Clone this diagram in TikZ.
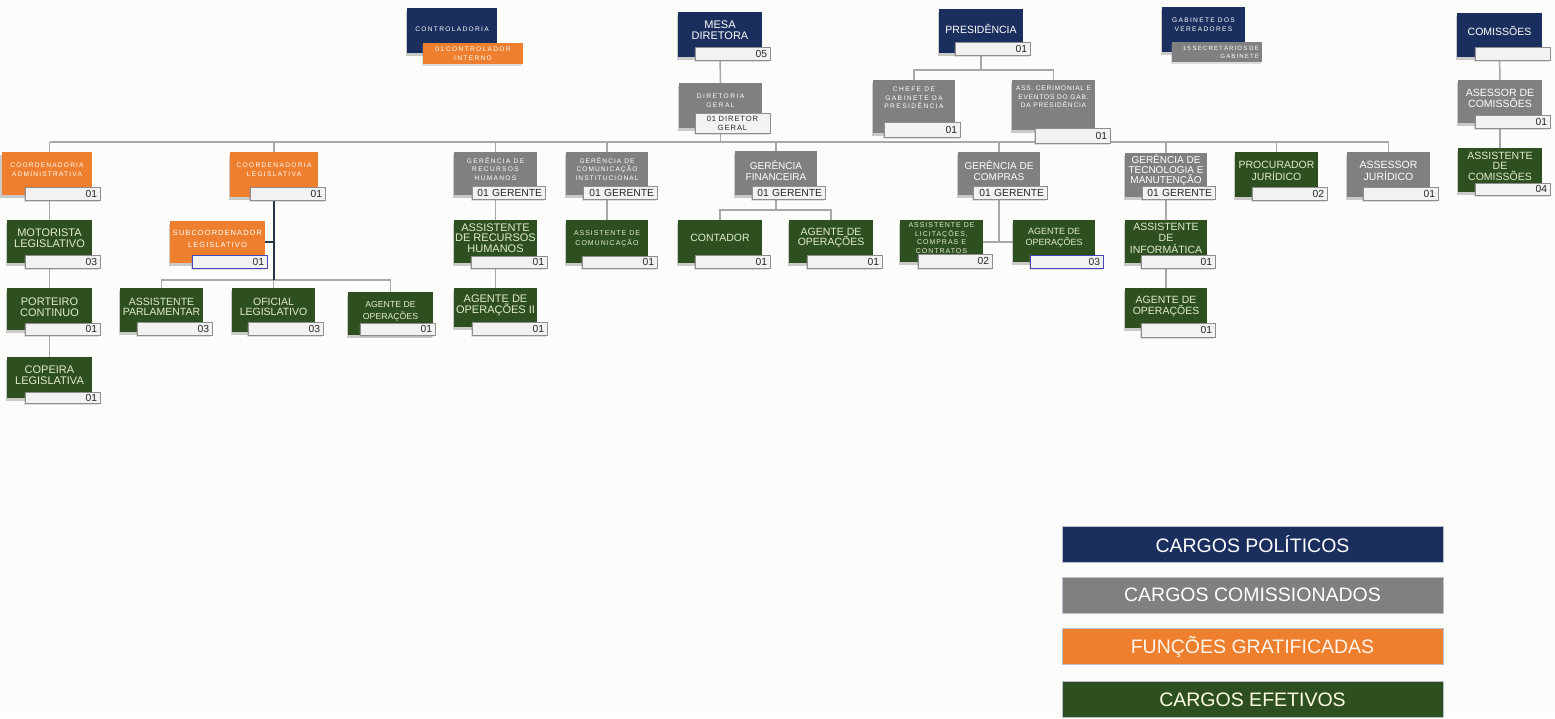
\documentclass[tikz,border=0pt]{standalone}
\usepackage{fontspec}
\setmainfont{Liberation Sans}
\usetikzlibrary{shadows,backgrounds}
\definecolor{navy}{HTML}{1B2F5E}
\definecolor{grayb}{HTML}{808080}
\definecolor{orng}{HTML}{EE7F2E}
\definecolor{grn}{HTML}{2E5021}
\definecolor{lineg}{HTML}{A8A8A8}
\definecolor{lined}{HTML}{26364A}
\definecolor{cntf}{HTML}{F2F2F2}
\definecolor{cntb}{HTML}{8E8E8E}
\definecolor{grntxt}{HTML}{E2ECCB}
\definecolor{bgc}{HTML}{FCFCFA}
\definecolor{legbd}{HTML}{B8C0CC}
\newcommand\fsz[2]{\fontsize{#1}{#2}\selectfont}
\newcommand\smf[1]{\fontsize{6.6}{8.6}\selectfont\addfontfeature{LetterSpace=#1}}
\newcommand\obox[9]{%
  \pgfmathsetmacro\bw{#5-#3}\pgfmathsetmacro\bh{#6-#4}%
  \pgfmathsetmacro\bx{(#3+#5)/2}\pgfmathsetmacro\by{(#4+#6)/2}%
  \node[#2, minimum width=\bw pt, minimum height=\bh pt] (#1) at (\bx,\by) {};
  \node[#2T, inner sep=0pt, align=center, font=#8] (#1-t) at (\bx,#7) {#9};}
\newcommand\cbox[7][]{%
  \pgfmathsetmacro\bw{#5-#3}\pgfmathsetmacro\bh{#6-#4}\pgfmathsetmacro\tw{#5-#3-6}%
  \pgfmathsetmacro\bx{(#3+#5)/2}\pgfmathsetmacro\by{(#4+#6)/2}%
  \node[cnt, minimum width=\bw pt, minimum height=\bh pt, text width=\tw pt, #1] (#2) at (\bx,\by) {#7};}
\begin{document}
\begin{tikzpicture}[x=1pt,y=-1pt,
  box/.style={draw=none, inner sep=0pt, drop shadow={shadow xshift=-1.5pt,shadow yshift=-2.5pt,opacity=.4}},
  navyB/.style={box, fill=navy}, navyBT/.style={text=white},
  grayB/.style={box, fill=grayb}, grayBT/.style={text=white},
  orngB/.style={box, fill=orng}, orngBT/.style={text=white},
  grnB/.style={box, fill=grn}, grnBT/.style={text=grntxt},
  cnt/.style={draw=cntb, fill=cntf, line width=.7pt, inner xsep=3pt, inner ysep=0pt, align=right, font=\fsz{10.3}{10}, text=black!85,
     drop shadow={shadow xshift=-1pt,shadow yshift=-1.5pt,opacity=.25}},
  conn/.style={draw=lineg, line width=1.5pt},
  connd/.style={draw=lined, line width=1.5pt},
  legbox/.style={draw=legbd, line width=.6pt, minimum width=381pt, minimum height=36pt, inner sep=0pt, font=\fsz{19.5}{20}}
]
\useasboundingbox (0,0) rectangle (1555,718);
\begin{pgfonlayer}{background}
\fill[bgc] (0,0) rectangle (1555,718);
\end{pgfonlayer}

% ---------- top row ----------
\obox{contr}{navyB}{407}{8}{497}{53}{29}{\smf{20}}{CONTROLADORIA}
\cbox[fill=orng, draw=none, text=white, align=center, font=\fontsize{6.6}{8.5}\selectfont\addfontfeature{LetterSpace=20}]{contr-c}{423}{43}{523}{64}{01 CONTROLADOR\\INTERNO}

\obox{mesa}{navyB}{678}{12}{762}{57}{30}{\fsz{11}{10.5}}{MESA\\DIRETORA}
\cbox{mesa-c}{695}{47}{770}{60}{05}

\obox{dirg}{grayB}{679}{83}{762}{128}{101}{\smf{22}}{DIRETORIA\\GERAL}
\cbox[align=center, font=\fontsize{7.6}{9}\selectfont\addfontfeature{LetterSpace=12}]{dirg-c}{695}{113}{770}{133}{01 DIRETOR\\GERAL}

\obox{pres}{navyB}{939}{9}{1023}{53}{29}{\fsz{10.5}{11}}{PRESIDÊNCIA}
\cbox{pres-c}{955}{42}{1030}{55}{01}

\obox{chefe}{grayB}{873}{80}{955}{133}{98}{\smf{22}}{CHEFE DE\\GABINETE DA\\PRESIDÊNCIA}
\cbox{chefe-c}{884}{122}{960}{137}{01}

\obox{cerim}{grayB}{1012}{80}{1095}{130}{97}{\smf{12}}{ASS. CERIMONIAL E\\EVENTOS DO GAB.\\DA PRESIDÊNCIA}
\cbox{cerim-c}{1035}{128}{1110}{143}{01}

\obox{gabv}{navyB}{1162}{7}{1245}{52}{25}{\smf{20}}{GABINETE DOS\\VEREADORES}
\cbox[fill=grayb, draw=none, text=white, font=\fontsize{6.1}{8}\selectfont\addfontfeature{LetterSpace=18}]{gabv-c}{1172}{42}{1262}{62}{15 SECRETÁRIOS DE\\GABINETE}

\obox{comis}{navyB}{1457}{13}{1542}{57}{31}{\fsz{10.5}{11}}{COMISSÕES}
\cbox{comis-c}{1475}{47}{1550}{60}{}

\obox{asscom}{grayB}{1458}{80}{1542}{123}{98}{\fsz{10.5}{11}}{ASESSOR DE\\COMISSÕES}
\cbox{asscom-c}{1475}{115}{1550}{128}{01}

\obox{assistcom}{grnB}{1458}{148}{1542}{192}{166}{\fsz{10.5}{10.5}}{ASSISTENTE\\DE\\COMISSÕES}
\cbox{assistcom-c}{1475}{183}{1550}{195}{04}

% ---------- coordenadoria administrativa ----------
\obox{cadm}{orngB}{2}{152}{92}{195}{170}{\smf{18}}{COORDENADORIA\\ADMINISTRATIVA}
\cbox{cadm-c}{25}{187}{100}{200}{01}
\obox{motor}{grnB}{7}{220}{92}{263}{238}{\fsz{11}{11}}{MOTORISTA\\LEGISLATIVO}
\cbox{motor-c}{25}{255}{100}{268}{03}
\obox{port}{grnB}{7}{288}{92}{330}{307}{\fsz{11}{11}}{PORTEIRO\\CONTINUO}
\cbox{port-c}{25}{323}{100}{335}{01}
\obox{cope}{grnB}{7}{357}{92}{398}{375}{\fsz{11}{11}}{COPEIRA\\LEGISLATIVA}
\cbox{cope-c}{25}{392}{100}{403}{01}

% ---------- coordenadoria legislativa ----------
\obox{cleg}{orngB}{230}{152}{318}{197}{170}{\smf{20}}{COORDENADORIA\\LEGISLATIVA}
\cbox{cleg-c}{250}{187}{325}{200}{01}
\obox{subc}{orngB}{170}{221}{265}{263}{239}{\fontsize{7.5}{12.5}\selectfont\addfontfeature{LetterSpace=14}}{SUBCOORDENADOR\\LEGISLATIVO}
\cbox[draw=blue!45!gray]{subc-c}{192}{255}{267}{268}{01}
\obox{aparl}{grnB}{120}{288}{203}{332}{307}{\fsz{10.5}{10.5}}{ASSISTENTE\\PARLAMENTAR}
\cbox{aparl-c}{137}{322}{212}{335}{03}
\obox{ofic}{grnB}{232}{288}{315}{332}{307}{\fsz{10.5}{10.5}}{OFICIAL\\LEGISLATIVO}
\cbox{ofic-c}{248}{322}{323}{335}{03}
\obox{agleg}{grnB}{348}{292}{433}{335}{311}{\fsz{8.7}{12}}{AGENTE DE\\OPERAÇÕES}
\cbox{agleg-c}{360}{323}{435}{335}{01}

% ---------- recursos humanos / comunicação ----------
\obox{grh}{grayB}{454}{152}{537}{195}{169}{\smf{20}}{GERÊNCIA DE\\RECURSOS\\HUMANOS}
\cbox{grh-c}{472}{186}{545}{199}{01 GERENTE}
\obox{arh}{grnB}{454}{220}{537}{263}{238}{\fsz{11}{10.5}}{ASSISTENTE\\DE RECURSOS\\HUMANOS}
\cbox{arh-c}{471}{256}{547}{268}{01}
\obox{agrh}{grnB}{454}{288}{537}{327}{305}{\fsz{11}{11}}{AGENTE DE\\OPERAÇÕES II}
\cbox{agrh-c}{472}{322}{547}{335}{01}

\obox{gcom}{grayB}{566}{152}{648}{195}{169}{\smf{16}}{GERÊNCIA DE\\COMUNICAÇÃO\\INSTITUCIONAL}
\cbox{gcom-c}{583}{186}{657}{199}{01 GERENTE}
\obox{acom}{grnB}{566}{220}{648}{263}{239}{\fontsize{7}{10}\selectfont\addfontfeature{LetterSpace=14}}{ASSISTENTE DE\\COMUNICAÇÃO}
\cbox{acom-c}{582}{256}{657}{268}{01}

% ---------- financeira ----------
\obox{gfin}{grayB}{735}{151}{817}{195}{171}{\fsz{10}{11}}{GERÊNCIA\\FINANCEIRA}
\cbox{gfin-c}{752}{186}{825}{199}{01 GERENTE}
\obox{cont}{grnB}{678}{220}{762}{263}{238}{\fsz{10.5}{11}}{CONTADOR}
\cbox{cont-c}{695}{255}{770}{268}{01}
\obox{agfin}{grnB}{789}{220}{873}{263}{238}{\fsz{10.5}{10.5}}{AGENTE DE\\OPERAÇÕES}
\cbox{agfin-c}{807}{255}{882}{268}{01}

% ---------- compras ----------
\obox{gcomp}{grayB}{958}{152}{1040}{195}{171}{\fsz{10}{11}}{GERÊNCIA DE\\COMPRAS}
\cbox{gcomp-c}{973}{186}{1047}{199}{01 GERENTE}
\obox{alic}{grnB}{900}{220}{983}{262}{238}{\fontsize{7}{8.8}\selectfont\addfontfeature{LetterSpace=14}}{ASSISTENTE DE\\LICITAÇÕES,\\COMPRAS E\\CONTRATOS}
\cbox{alic-c}{918}{254}{992}{268}{02}
\obox{agcomp}{grnB}{1013}{220}{1095}{262}{238}{\fsz{9}{11}}{AGENTE DE\\OPERAÇÕES}
\cbox[draw=blue!45!gray]{agcomp-c}{1030}{255}{1103}{268}{03}

% ---------- tecnologia ----------
\obox{gtec}{grayB}{1125}{153}{1207}{197}{170}{\fsz{10}{10}}{GERÊNCIA DE\\TECNOLOGIA E\\MANUTENÇÃO}
\cbox{gtec-c}{1142}{186}{1215}{199}{01 GERENTE}
\obox{ainf}{grnB}{1125}{220}{1207}{263}{238}{\fsz{10.5}{11.5}}{ASSISTENTE\\DE\\INFORMÁTICA}
\cbox{ainf-c}{1141}{255}{1215}{268}{01}
\obox{agtec}{grnB}{1125}{288}{1207}{328}{306}{\fsz{10.5}{11}}{AGENTE DE\\OPERAÇÕES}
\cbox{agtec-c}{1141}{323}{1215}{337}{01}

% ---------- jurídico ----------
\obox{proc}{grnB}{1235}{152}{1318}{197}{171}{\fsz{10.5}{11.5}}{PROCURADOR\\JURÍDICO}
\cbox{proc-c}{1252}{187}{1327}{200}{02}
\obox{asjur}{grayB}{1347}{152}{1430}{197}{171}{\fsz{10.5}{11.5}}{ASSESSOR\\JURÍDICO}
\cbox{asjur-c}{1363}{187}{1438}{200}{01}

% ---------- legend ----------
\node[legbox, fill=navy, text=white] (leg1) at (1252.5,544) {CARGOS POLÍTICOS};
\node[legbox, fill=grayb, text=white] (leg2) at (1252.5,595) {CARGOS COMISSIONADOS};
\node[legbox, fill=orng, text=orange!8] (leg3) at (1252.5,646.5) {FUNÇÕES GRATIFICADAS};
\node[legbox, fill=grn, text=yellow!10] (leg4) at (1252.5,699.5) {CARGOS EFETIVOS};

% ---------- connectors ----------
\coordinate (busY) at (0,142);
\coordinate (presY) at (0,70);
\coordinate (legY) at (0,280);
\coordinate (subY) at (0,242);
\coordinate (finY) at (0,210);
\coordinate (compY) at (0,242);
\begin{pgfonlayer}{background}
\draw[conn] (mesa.south) -- (dirg.north);
\draw[conn] (dirg.south) -- (dirg.south |- busY);
\draw[conn] (motor.north |- busY) -- (asjur.north |- busY);
\foreach \n in {grh,gcom,gfin,gcomp,gtec,proc,asjur}
  \draw[conn] (\n.north |- busY) -- (\n.north);
\draw[conn] (motor.north |- busY) -- (motor.north |- cadm.north);
\draw[conn] (cleg.north |- busY) -- (cleg.north);
\draw[conn] (pres.south) -- (pres.south |- presY);
\draw[conn] (chefe.north) -- (chefe.north |- presY) -- (cerim.north |- presY) -- (cerim.north);
\draw[conn] (comis.south) -- (asscom.north);
\draw[conn] (asscom.south) -- (assistcom.north);
\draw[conn] (motor.north |- cadm.south) -- (motor.north);
\draw[conn] (motor.south) -- (port.north);
\draw[conn] (port.south) -- (cope.north);
\draw[conn] (aparl.north) -- (aparl.north |- legY) -- (agleg.north |- legY) -- (agleg.north);
\draw[conn] (ofic.north |- legY) -- (ofic.north);
\draw[connd] (cleg.south) -- (cleg.south |- legY);
\draw[connd] (subc.east |- subY) -- (cleg.south |- subY);
\draw[conn] (grh.south) -- (arh.north);
\draw[conn] (arh.south) -- (agrh.north);
\draw[conn] (gcom.south) -- (acom.north);
\draw[conn] (gfin.south) -- (gfin.south |- finY);
\draw[conn] (cont.north) -- (cont.north |- finY) -- (agfin.north |- finY) -- (agfin.north);
\draw[conn] (gcomp.south) -- (gcomp.south |- compY);
\draw[conn] (alic.east |- compY) -- (agcomp.west |- compY);
\draw[conn] (gtec.south) -- (ainf.north);
\draw[conn] (ainf.south) -- (agtec.north);
\end{pgfonlayer}
\end{tikzpicture}
\end{document}
